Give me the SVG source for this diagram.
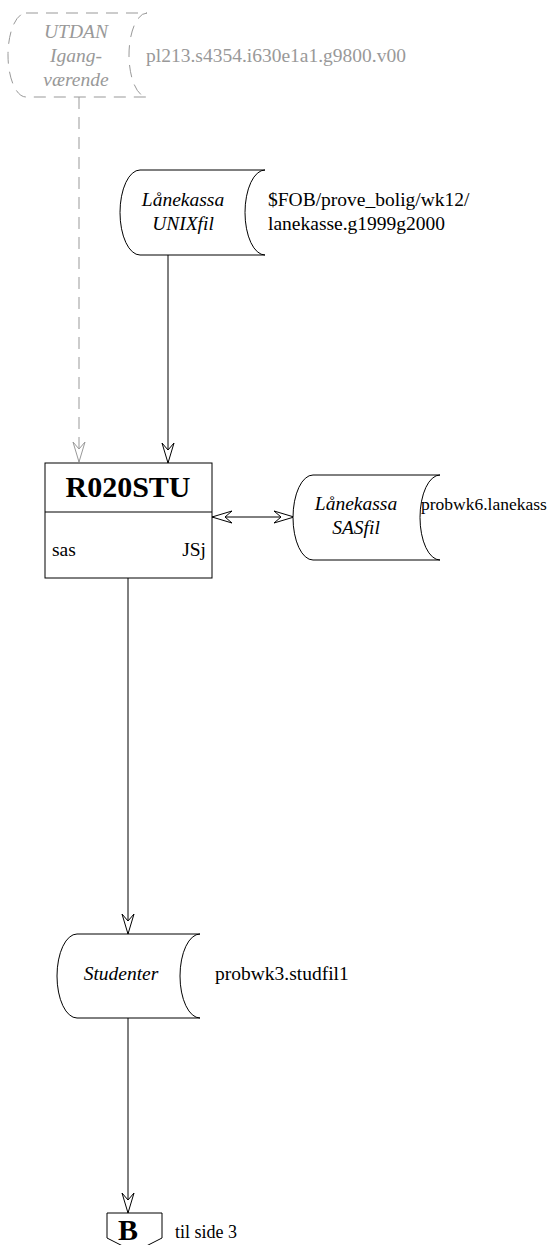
<svg xmlns="http://www.w3.org/2000/svg" width="555" height="1245" viewBox="0 0 555 1245">
<style>
.shape{fill:#fff;stroke:#000;stroke-width:1}
.ghost{fill:#fff;stroke:#999;stroke-width:1;stroke-dasharray:12,8}
text{font-family:'Liberation Serif','Tinos','DejaVu Serif',serif;font-size:19.5px;fill:#000}
.i{font-style:italic;text-anchor:middle}
.g{fill:#999}
.b{font-weight:bold;text-anchor:middle;font-size:30px}
.s{font-size:18px}
.n{font-size:17.5px}
.c{fill:none;stroke:#000;stroke-width:1}
.cg{fill:none;stroke:#999;stroke-width:1;stroke-dasharray:12,8}
</style>
<defs>
<marker id="ah" viewBox="-21 -8 23 16" refX="0" refY="0" markerWidth="23" markerHeight="16" markerUnits="userSpaceOnUse" orient="auto-start-reverse">
<path d="M0,0 L-20,-6 L-13,0 L-20,6 Z" fill="#fff" stroke="#000" stroke-width="1"/>
</marker>
<marker id="ahg" viewBox="-21 -8 23 16" refX="0" refY="0" markerWidth="23" markerHeight="16" markerUnits="userSpaceOnUse" orient="auto">
<path d="M0,0 L-20,-6 L-13,0 L-20,6 Z" fill="#fff" stroke="#999" stroke-width="1"/>
</marker>
</defs>
<g id="connectors">
<line class="cg" x1="79" y1="97" x2="79" y2="462" marker-end="url(#ahg)"/>
<line class="c" x1="168" y1="255" x2="168" y2="463" marker-end="url(#ah)"/>
<line class="c" x1="212" y1="517" x2="294" y2="517" marker-start="url(#ah)" marker-end="url(#ah)"/>
<line class="c" x1="128" y1="578" x2="128" y2="934" marker-end="url(#ah)"/>
<line class="c" x1="128" y1="1018" x2="128" y2="1213" marker-end="url(#ah)"/>
</g>
<g id="utdan">
<path class="ghost" d="M26,13 H147 A18,42 0 0 0 147,97 H26 A18,42 0 0 1 26,13 Z"/>
<text class="i g" x="76" y="38">UTDAN</text>
<text class="i g" x="76" y="62">Igang-</text>
<text class="i g" x="76" y="86">værende</text>
<text class="g" x="146" y="62">pl213.s4354.i630e1a1.g9800.v00</text>
</g>
<g id="unixfil">
<path class="shape" d="M140,170 H265 A20,42.5 0 0 0 265,255 H140 A20,42.5 0 0 1 140,170 Z"/>
<text class="i" x="183" y="206">Lånekassa</text>
<text class="i" x="183" y="230">UNIXfil</text>
<text x="268" y="206">$FOB/prove_bolig/wk12/</text>
<text x="268" y="230">lanekasse.g1999g2000</text>
</g>
<g id="r020stu">
<rect class="shape" x="45" y="463" width="167" height="115"/>
<line class="c" x1="45" y1="512" x2="212" y2="512"/>
<text class="b" x="128" y="497">R020STU</text>
<text x="52" y="556">sas</text>
<text x="206" y="556" text-anchor="end">JSj</text>
</g>
<g id="sasfil">
<path class="shape" d="M313,475 H440 A20,42.5 0 0 0 440,560 H313 A20,42.5 0 0 1 313,475 Z"/>
<text class="i" x="356" y="510">Lånekassa</text>
<text class="i" x="356" y="534">SASfil</text>
<text class="n" x="421" y="510">probwk6.lanekass</text>
</g>
<g id="studenter">
<path class="shape" d="M77,934 H200 A20,42 0 0 0 200,1018 H77 A20,42 0 0 1 77,934 Z"/>
<text class="i" x="121" y="980">Studenter</text>
<text x="215" y="980">probwk3.studfil1</text>
</g>
<g id="pageB">
<path class="shape" d="M107,1213 H162 V1238 L134.5,1252 L107,1238 Z"/>
<text class="b" x="128" y="1240">B</text>
<text class="s" x="175" y="1238">til side 3</text>
</g>
</svg>
